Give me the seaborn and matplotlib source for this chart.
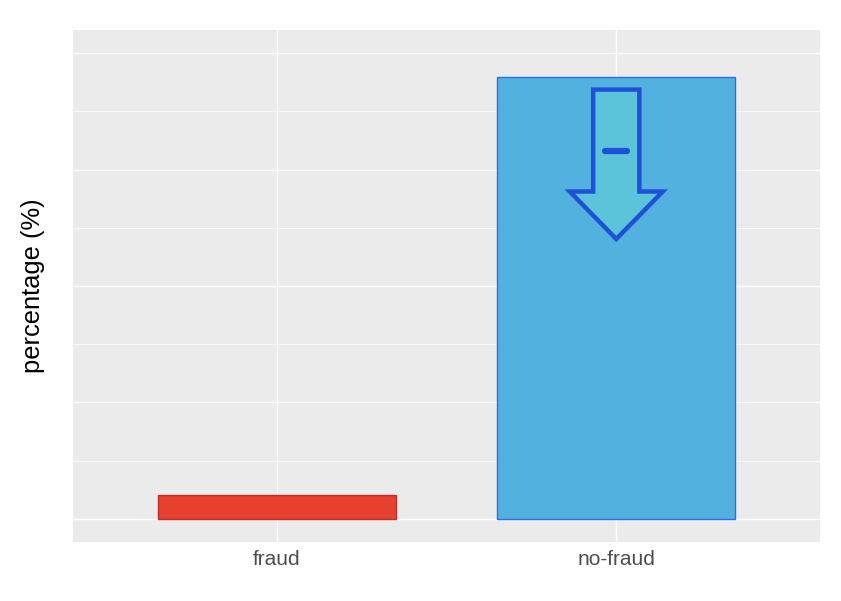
import matplotlib
matplotlib.use("Agg")
import matplotlib.pyplot as plt
import seaborn as sns
import pandas as pd
from matplotlib.patches import Polygon
from matplotlib.ticker import MultipleLocator

categories = ["fraud", "no-fraud"]
percentages = [5, 95]
bar_colors = ["#E8402E", "#53B1E0"]
edge_colors = ["#B8302A", "#2F6EEB"]

df = pd.DataFrame({"class": categories, "pct": percentages})

sns.set_theme(style="darkgrid", rc={
    "axes.facecolor": "#EBEBEB",
    "grid.color": "white",
    "axes.edgecolor": "#EBEBEB",
})
plt.rcParams["font.family"] = ["Liberation Sans", "DejaVu Sans"]

fig = plt.figure(figsize=(8.41, 6.01), dpi=100)
ax = fig.add_axes([73 / 841, 59 / 601, 747 / 841, 512 / 601])

sns.barplot(data=df, x="class", y="pct", hue="class", palette=bar_colors,
            saturation=1, width=0.7, legend=False, ax=ax, zorder=2)
for patch, ec in zip(ax.patches, edge_colors):
    patch.set_edgecolor(ec)
    patch.set_linewidth(1.0)

ax.set_xlim(-0.6, 1.6)
ax.set_ylim(-5, 105)
ax.yaxis.set_major_locator(MultipleLocator(25))
ax.yaxis.set_minor_locator(MultipleLocator(12.5))
ax.grid(True, which="major", color="white", linewidth=1.0)
ax.grid(True, which="minor", axis="y", color="white", linewidth=0.5)
ax.set_yticklabels([])
ax.tick_params(axis="y", which="both", length=0)
ax.tick_params(axis="x", length=3, color="#333333", labelsize=15, labelcolor="#4D4D4D", pad=3)
for s in ax.spines.values():
    s.set_visible(False)
ax.set_xlabel("")
ax.set_ylabel("percentage (%)", fontsize=18.4, color="black", labelpad=17)

# arrow annotation inside the no-fraud bar
xc = 1
top, shaft_bot, tip = 92.2, 70.3, 60.1
sw, hw = 0.068, 0.137
arrow = Polygon([(xc - sw, top), (xc + sw, top), (xc + sw, shaft_bot), (xc + hw, shaft_bot),
                 (xc, tip), (xc - hw, shaft_bot), (xc - sw, shaft_bot)],
                closed=True, facecolor="#5BC4DB", edgecolor="#1E50D8", linewidth=3.2,
                joinstyle="miter", zorder=3)
ax.add_patch(arrow)
ax.plot([xc - 0.032, xc + 0.032], [79.1, 79.1], color="#1E50D8", linewidth=4.5,
        solid_capstyle="round", zorder=4)

fig.savefig("out.png", dpi=100)
